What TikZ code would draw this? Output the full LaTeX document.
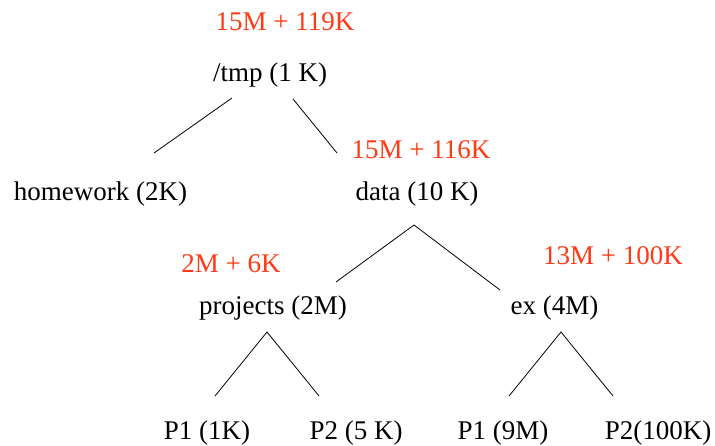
\documentclass[tikz,border=0pt]{standalone}
\usepackage{fontspec}
\setmainfont{Liberation Serif}
\definecolor{sizered}{RGB}{255,58,20}
\begin{document}
\begin{tikzpicture}[x=1pt,y=-1pt,
  lbl/.style={anchor=base,inner sep=0pt,font=\fontsize{27}{32}\selectfont},
  tot/.style={lbl,text=sizered},
  edge/.style={draw=black,line width=0.8pt}]
\useasboundingbox (0,0) rectangle (715,446);
% totals
\node[tot] (ttmp) at (285,31) {15M + 119K};
\node[tot] (tdata) at (421,159) {15M + 116K};
\node[tot] (tproj) at (231,272.5) {2M + 6K};
\node[tot] (tex) at (613,264.5) {13M + 100K};
% directories
\node[lbl] (tmp) at (270,82) {/tmp (1 K)};
\node[lbl] (hw) at (100.5,201) {homework (2K)};
\node[lbl] (data) at (417,201) {data (10 K)};
\node[lbl] (proj) at (273,315) {projects (2M)};
\node[lbl] (ex) at (554.5,315) {ex (4M)};
\node[lbl] (pa) at (207,439) {P1 (1K)};
\node[lbl] (pb) at (356,439) {P2 (5 K)};
\node[lbl] (pc) at (503,439) {P1 (9M)};
\node[lbl] (pd) at (658,439) {P2(100K)};
% connector ends
\coordinate (tmpL) at (232,98);
\coordinate (tmpR) at (293,99);
\coordinate (hwT) at (154,153);
\coordinate (dataT) at (337,153);
\coordinate (dataA) at (414,225);
\coordinate (projT) at (336,282);
\coordinate (exT) at (500,290);
\coordinate (projA) at (267,332);
\coordinate (paT) at (215,396);
\coordinate (pbT) at (319,396);
\coordinate (exA) at (561,332);
\coordinate (pcT) at (509,396);
\coordinate (pdT) at (613,396);
% connectors
\draw[edge] (tmpL) -- (hwT);
\draw[edge] (tmpR) -- (dataT);
\draw[edge] (projT) -- (dataA) -- (exT);
\draw[edge] (paT) -- (projA) -- (pbT);
\draw[edge] (pcT) -- (exA) -- (pdT);
\end{tikzpicture}
\end{document}
